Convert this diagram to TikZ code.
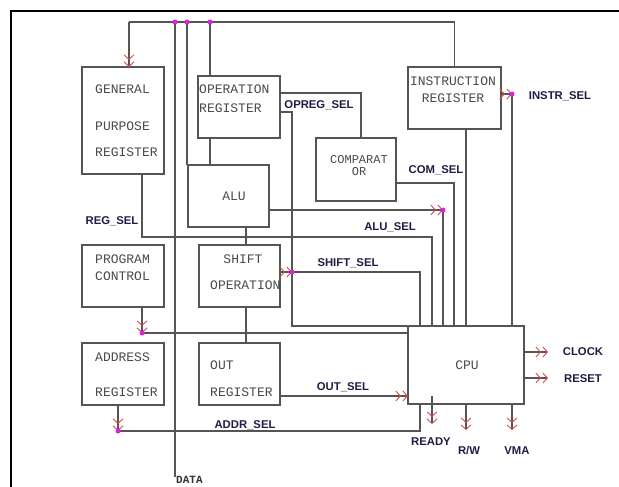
\documentclass[tikz,border=0pt]{standalone}
\usepackage{fontspec}
\setmainfont{Liberation Sans}
\newfontfamily\monof{Liberation Mono}
\usetikzlibrary{arrows.meta}
\definecolor{wirec}{HTML}{555555}
\definecolor{boxc}{HTML}{555555}
\definecolor{txtc}{HTML}{4A4A4A}
\definecolor{lblc}{HTML}{1E1E45}
\definecolor{tipc}{HTML}{E04848}
\definecolor{dotc}{HTML}{E020E0}
\tikzset{
 blk/.style={draw=boxc, line width=1.1pt, inner sep=0pt, outer sep=0pt, anchor=north west},
 btxt/.style={font=\monof\fontsize{13}{14}\selectfont, text=txtc, inner sep=0pt},
 lbl/.style={font=\bfseries\fontsize{11.3}{12}\selectfont, text=lblc, inner sep=0pt},
 wire/.style={draw=wirec, line width=1.1pt},
 dbl/.style={-{Straight Barb[color=tipc,length=4.5pt,width=10pt,line width=0.9pt,sep=1.5pt] Straight Barb[color=tipc,length=4.5pt,width=10pt,line width=0.9pt]}},
 dot/.style={circle, fill=dotc, inner sep=0pt, minimum size=5pt},
}
\begin{document}
\begin{tikzpicture}[x=1pt,y=-1pt]
\useasboundingbox (0,0) rectangle (619,487);
\fill[white] (0,0) rectangle (619,487);
\draw[line width=2pt] (11,500) -- (11,11) -- (640,11);

% blocks
\node[blk, minimum width=82pt, minimum height=107pt] (gpr) at (82,67) {};
\node[blk, minimum width=82pt, minimum height=62pt] (opreg) at (198,76) {};
\node[blk, minimum width=81pt, minimum height=62pt] (alu) at (188,165) {};
\node[blk, minimum width=80pt, minimum height=63pt] (comp) at (316,138) {};
\node[blk, minimum width=93pt, minimum height=62pt] (ir) at (408,67) {};
\node[blk, minimum width=82pt, minimum height=62pt] (pc) at (82,245) {};
\node[blk, minimum width=81pt, minimum height=62pt] (shift) at (199,245) {};
\node[blk, minimum width=82pt, minimum height=62pt] (addr) at (82,343) {};
\node[blk, minimum width=81pt, minimum height=62pt] (outr) at (199,343) {};
\node[blk, minimum width=116pt, minimum height=78pt] (cpu) at (408,326) {};

% block texts
\node[btxt, anchor=west] (t1) at (95,89) {GENERAL};
\node[btxt, anchor=west] (t2) at (95,126) {PURPOSE};
\node[btxt, anchor=west] (t3) at (95,152) {REGISTER};
\node[btxt, anchor=west] (t4) at (199,89) {OPERATION};
\node[btxt, anchor=west] (t5) at (199,108) {REGISTER};
\node[btxt] (t6) at (234,196) {ALU};
\node[btxt, align=center, font=\monof\fontsize{12}{12}\selectfont] (t7) at (359,166) {COMPARAT\\OR};
\node[btxt] (t9) at (453,81) {INSTRUCTION};
\node[btxt] (t10) at (453,98) {REGISTER};
\node[btxt, anchor=west] (t11) at (95,259) {PROGRAM};
\node[btxt, anchor=west] (t12) at (95,276) {CONTROL};
\node[btxt] (t13) at (243,259) {SHIFT};
\node[btxt, anchor=west] (t14) at (210,285) {OPERATION};
\node[btxt, anchor=west] (t15) at (95,357) {ADDRESS};
\node[btxt, anchor=west] (t16) at (95,392) {REGISTER};
\node[btxt, anchor=west] (t17) at (210,365) {OUT};
\node[btxt, anchor=west] (t18) at (210,392) {REGISTER};
\node[btxt] (t19) at (467,365) {CPU};

% dot positions
\coordinate (pA) at (175,22);
\coordinate (pB) at (187,22);
\coordinate (pC) at (210,22);
\coordinate (pAl) at (443,210);
\coordinate (pSh) at (292,272);
\coordinate (pPc) at (142,333);
\coordinate (pAd) at (118,431);
\coordinate (pIs) at (512,94);

% helper coordinates
\coordinate (b0) at (129,22);
\coordinate (dEnd) at (175,477);
\coordinate (q1) at (361,93);
\coordinate (q2) at (292,112);
\coordinate (q3) at (454,183);
\coordinate (q5) at (142,237);
\coordinate (q6) at (432,237);
\coordinate (q7) at (246,200);
\coordinate (q8) at (420,272);
\coordinate (q9) at (300,396);
\coordinate (q10) at (548,352);
\coordinate (q11) at (548,378);
\coordinate (q12) at (432,396);
\coordinate (r1) at (432,424);
\coordinate (r2) at (466,430);
\coordinate (r3) at (512,430);

% wires
\draw[wire] (ir.north) |- (b0);
\draw[wire,dbl] (b0) -- (b0 |- gpr.north);
\draw[wire] (pA) -- (dEnd);
\draw[wire] (pB) -- (pB |- alu.north);
\draw[wire] (pC) -- (pC |- opreg.north);
\draw[wire] (pC |- opreg.south) -- (pC |- alu.north);
\draw[wire] (opreg.east |- q1) -| (q1 |- comp.north);
\draw[wire] (opreg.east |- q2) -| (q2 |- cpu.north) -- (cpu.north west);
\draw[wire] (comp.east |- q3) -| (q3 |- cpu.north);
\draw[wire] (ir.south -| cpu.north) -- (cpu.north);
\draw[wire,dbl] (ir.east |- pIs) -- (pIs);
\draw[wire] (pIs) -- (pIs |- cpu.north);
\draw[wire,dbl] (alu.east |- pAl) -- (pAl);
\draw[wire] (pAl) -- (pAl |- cpu.north);
\draw[wire] (gpr.south -| q5) |- (q6) -- (q6 |- cpu.north);
\draw[wire] (alu.south -| q7) -- (shift.north -| q7);
\draw[wire] (shift.south -| q7) -- (outr.north -| q7);
\draw[wire,dbl] (shift.east |- pSh) -- (pSh);
\draw[wire] (pSh) -- (q8) -- (q8 |- cpu.north);
\draw[wire,dbl] (pc.south -| pPc) -- (pPc);
\draw[wire] (pPc) -- (cpu.west |- pPc);
\draw[wire,dbl] (outr.east |- q9) -- (cpu.west |- q9);
\draw[wire,dbl] (addr.south -| pAd) -- (pAd);
\draw[wire] (pAd) -| (cpu.south -| q8);
\draw[wire,dbl] (cpu.east |- q10) -- (q10);
\draw[wire,dbl] (cpu.east |- q11) -- (q11);
\draw[wire,dbl] (q12) -- (r1);
\draw[wire,dbl] (cpu.south -| r2) -- (r2);
\draw[wire,dbl] (cpu.south -| r3) -- (r3);

% dots
\foreach \p/\n in {pA/dA,pB/dB,pC/dC,pAl/dAl,pSh/dSh,pPc/dPc,pAd/dAd,pIs/dIs}
  \node[dot] (\n) at (\p) {};

% labels
\node[lbl] (l1) at (112,221) {REG\_SEL};
\node[lbl] (l2) at (319,105) {OPREG\_SEL};
\node[lbl] (l3) at (436,170) {COM\_SEL};
\node[lbl] (l4) at (390,227) {ALU\_SEL};
\node[lbl] (l5) at (348,263) {SHIFT\_SEL};
\node[lbl] (l6) at (560,96) {INSTR\_SEL};
\node[lbl] (l7) at (343,387) {OUT\_SEL};
\node[lbl] (l8) at (245,425) {ADDR\_SEL};
\node[lbl] (l9) at (583,352) {CLOCK};
\node[lbl] (l10) at (583,379) {RESET};
\node[lbl] (l11) at (431,442) {READY};
\node[lbl] (l12) at (469,451) {R/W};
\node[lbl] (l13) at (517,451) {VMA};
\node[font=\monof\bfseries\fontsize{11}{12}\selectfont, text=black!80, inner sep=0pt, anchor=north west] (data) at (176,476) {DATA};
\end{tikzpicture}
\end{document}
